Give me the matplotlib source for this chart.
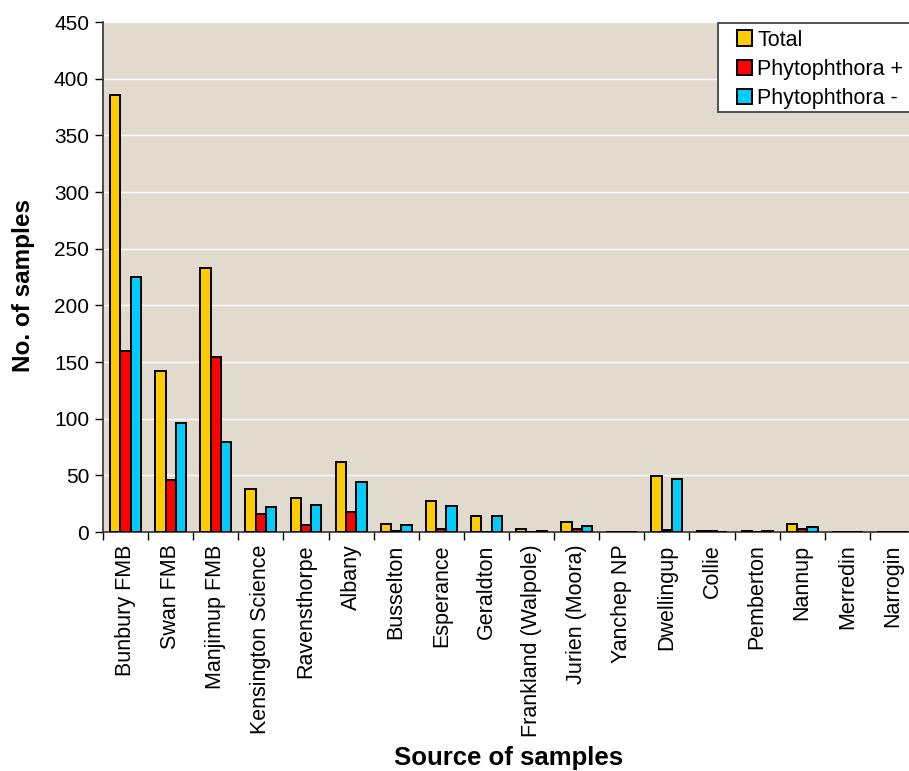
import numpy as np
import matplotlib
matplotlib.use("Agg")
import matplotlib.pyplot as plt
from matplotlib.patches import Patch, Rectangle

plt.rcParams['font.family'] = ['Liberation Sans', 'DejaVu Sans']

categories = ["Bunbury FMB", "Swan FMB", "Manjimup FMB", "Kensington Science",
              "Ravensthorpe", "Albany", "Busselton", "Esperance", "Geraldton",
              "Frankland (Walpole)", "Jurien (Moora)", "Yanchep NP", "Dwellingup",
              "Collie", "Pemberton", "Nannup", "Merredin", "Narrogin"]
total      = [386, 142, 233, 38, 30, 62, 7, 27, 14, 3, 9, 0, 49, 1, 1, 7, 0, 0]
phyto_pos  = [160,  46, 154, 16,  6, 18, 1,  3,  0, 0, 3, 0,  2, 1, 0, 3, 0, 0]
phyto_neg  = [225,  96,  79, 22, 24, 44, 6, 23, 14, 1, 5, 0, 47, 0, 1, 4, 0, 0]
series_names = ["Total", "Phytophthora +", "Phytophthora -"]
series_colors = ["#FFCC00", "#FF0000", "#00CCFF"]
yticks = [0, 50, 100, 150, 200, 250, 300, 350, 400, 450]

W, H = 909, 771
fig = plt.figure(figsize=(W / 100, H / 100), dpi=100)
fig.patch.set_facecolor("white")

left, right, top, bottom = 103, 915, 22, 532
ax = fig.add_axes([left / W, 1 - bottom / H, (right - left) / W, (bottom - top) / H])
ax.set_facecolor("#E3DACE")

x = np.arange(len(categories))
bw = 0.228
for i, (vals, col, name) in enumerate(zip([total, phyto_pos, phyto_neg],
                                          series_colors, series_names)):
    ax.bar(x + (i - 1) * bw, vals, width=bw, color=col, edgecolor="black",
           linewidth=1.4, label=name, zorder=3)

ax.set_xlim(-0.5, len(categories) - 0.5)
ax.set_ylim(0, 450)
ax.set_yticks(yticks)
ax.set_yticklabels([str(v) for v in yticks], fontsize=15)
ax.yaxis.grid(True, color="white", linewidth=1.0, zorder=1)
ax.set_axisbelow(True)

# category labels at centers, tick marks at the boundaries
ax.set_xticks(x)
ax.set_xticklabels(categories, rotation=90, fontsize=15.5)
ax.tick_params(axis="x", length=0, pad=9)
ax.set_xticks(np.arange(len(categories) + 1) - 0.5, minor=True)
ax.tick_params(axis="x", which="minor", length=6, width=1.0, direction="out")
ax.tick_params(axis="y", length=6, width=1.0, direction="out", pad=4)

for side in ["top", "right"]:
    ax.spines[side].set_visible(False)
ax.spines["left"].set_color("#333333")
ax.spines["bottom"].set_color("#333333")
ax.spines["left"].set_linewidth(1.2)
ax.spines["bottom"].set_linewidth(1.2)

fig.text(24 / W, 1 - 286 / H, "No. of samples", rotation=90, fontsize=17.5,
         fontweight="bold", ha="center", va="center")
fig.text(509 / W, 1 - 758 / H, "Source of samples", fontsize=18.5,
         fontweight="bold", ha="center", va="center")

# legend box (open on the right, running past the figure edge)
fig.patches.append(Rectangle((718 / W, 1 - 112 / H), 200 / W, 89 / H,
                             transform=fig.transFigure, facecolor="white",
                             edgecolor="#444444", linewidth=1.3, zorder=4))
handles = [Patch(facecolor=c, edgecolor="black", linewidth=1.4) for c in series_colors]
leg = fig.legend(handles, series_names, loc="upper left",
                 bbox_to_anchor=(737 / W, 1 - 29.5 / H), fontsize=15.5,
                 frameon=False, handlelength=0.7, handleheight=0.7,
                 handletextpad=0.23, borderpad=0, labelspacing=0.38,
                 borderaxespad=0)
leg.set_zorder(5)

fig.savefig("out.png", dpi=100, facecolor="white")
